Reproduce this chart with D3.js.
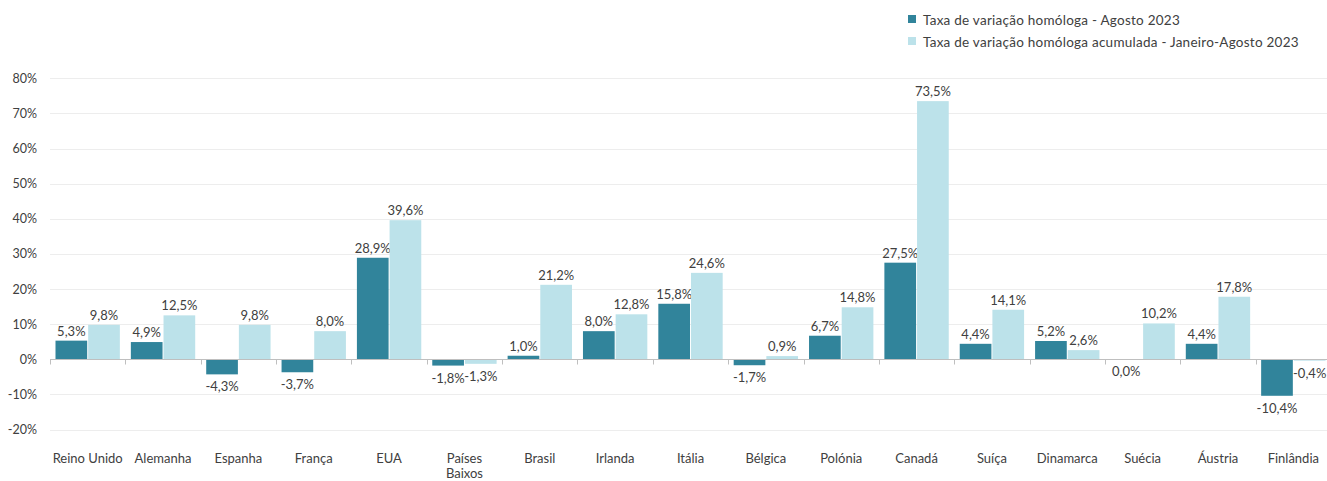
<!DOCTYPE html>
<html><head><meta charset="utf-8">
<script src="https://cdn.jsdelivr.net/npm/d3@7"></script>
<style>body{margin:0;background:#fff}svg{display:block}text{font-family:Lato,"Open Sans",sans-serif;fill:#404040}</style>
</head><body><svg id="c" width="1327" height="481"></svg>
<script>
const categories=["Reino Unido","Alemanha","Espanha","França","EUA","Países Baixos","Brasil","Irlanda","Itália","Bélgica","Polónia","Canadá","Suíça","Dinamarca","Suécia","Áustria","Finlândia"];
const agosto=[5.3,4.9,-4.3,-3.7,28.9,-1.8,1.0,8.0,15.8,-1.7,6.7,27.5,4.4,5.2,0.0,4.4,-10.4];
const acumulada=[9.8,12.5,9.8,8.0,39.6,-1.3,21.2,12.8,24.6,0.9,14.8,73.5,14.1,2.6,10.2,17.8,-0.4];
const seriesNames=["Taxa de variação homóloga - Agosto 2023","Taxa de variação homóloga acumulada - Janeiro-Agosto 2023"];
const yTicks=[-20,-10,0,10,20,30,40,50,60,70,80];
const colors=["#31849B","#BCE2EA"];

const svg=d3.select("#c");
const x=d3.scaleBand().domain(categories).range([50,1331]).paddingInner(0).paddingOuter(0);
const y=d3.scaleLinear().domain([-20,80]).range([429.5,78.3]);
const x1=d3.scaleBand().domain([0,1]).range([5.5,x.bandwidth()-5.5]).paddingInner(0.03);

// grid
svg.append("g").selectAll("line").data(yTicks.filter(d=>d!==0)).join("line")
 .attr("x1",50).attr("x2",1327).attr("y1",d=>Math.round(y(d))+0.5).attr("y2",d=>Math.round(y(d))+0.5)
 .attr("stroke","#EDEDED").attr("stroke-width",1);

// y labels
svg.append("g").selectAll("text").data(yTicks).join("text")
 .attr("x",37).attr("y",d=>y(d)+4.5).attr("text-anchor","end").style("font-size","12.5px").text(d=>d+"%");

const fmt=v=>v.toFixed(1).replace(".",",")+"%";
const data=[agosto,acumulada];
data.forEach((arr,si)=>{
  const g=svg.append("g");
  g.selectAll("rect").data(arr).join("rect")
   .attr("x",(d,i)=>x(categories[i])+x1(si))
   .attr("width",x1.bandwidth())
   .attr("y",d=>y(Math.max(0,d)))
   .attr("height",d=>Math.abs(y(d)-y(0)))
   .attr("fill",colors[si]);
  g.selectAll("text").data(arr).join("text")
   .attr("x",(d,i)=>x(categories[i])+x1(si)+x1.bandwidth()/2)
   .attr("y",d=>d>0?y(d)-5:y(d)+17)
   .attr("text-anchor","middle").style("font-size","13px").text(fmt);
});

// x axis
const axisY=Math.round(y(0))+0.5;
svg.append("line").attr("x1",50).attr("x2",1327).attr("y1",axisY).attr("y2",axisY).attr("stroke","#BFBFBF");
svg.append("g").selectAll("line").data(categories.map(c=>x(c))).join("line")
 .attr("x1",d=>Math.round(d)+0.5).attr("x2",d=>Math.round(d)+0.5).attr("y1",axisY).attr("y2",axisY+5).attr("stroke","#BFBFBF");

// category labels
const cl=svg.append("g").selectAll("text").data(categories).join("text")
 .attr("x",d=>x(d)+x.bandwidth()/2).attr("y",463).attr("text-anchor","middle").style("font-size","13px");
cl.each(function(d){
  const t=d3.select(this);
  if(d==="Países Baixos"){
    t.append("tspan").attr("x",x(d)+x.bandwidth()/2).text("Países");
    t.append("tspan").attr("x",x(d)+x.bandwidth()/2).attr("dy",15).text("Baixos");
  } else t.text(d);
});

// legend
const lg=svg.append("g");
seriesNames.forEach((n,i)=>{
  lg.append("rect").attr("x",908).attr("y",15+i*22).attr("width",8).attr("height",8).attr("fill",colors[i]);
  lg.append("text").attr("x",923).attr("y",24.5+i*22).style("font-size","13.5px").style("letter-spacing","0.25px").text(n);
});
</script></body></html>
